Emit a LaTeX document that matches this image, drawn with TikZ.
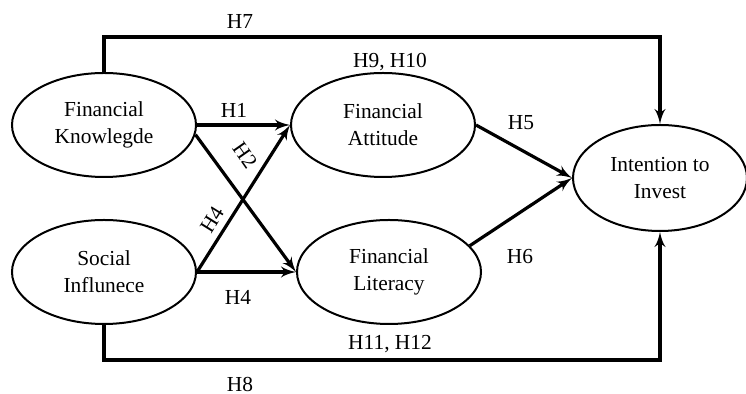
\documentclass[tikz,border=0pt]{standalone}
\usepackage{fontspec}
\setmainfont{Liberation Serif}
\newfontfamily\timesfont{Liberation Serif}
\usetikzlibrary{arrows}
\usetikzlibrary{shapes.geometric}

\begin{document}
\begin{tikzpicture}[x=.5pt, y=-.5pt, font=\timesfont\fontsize{10.7}{13.5}\selectfont,
  construct/.style={draw, ellipse, line width=1pt, inner sep=0, minimum width=92pt, minimum height=52pt, align=center},
  link/.style={black, line width=1.6pt, ->, >=latex'},
  hyp/.style={inner sep=0}]
\useasboundingbox (0,0) rectangle (746,394);

\node[construct] (know) at (104,125) {Financial\\Knowlegde};
\node[construct] (social) at (104,272) {Social\\Influnece};
\node[construct] (attitude) at (383,125) {Financial\\Attitude};
\node[construct] (literacy) at (389,272) {Financial\\Literacy};
\node[construct, minimum width=87pt, minimum height=53pt] (intent) at (660,178) {Intention to\\Invest};

\coordinate (toprail) at (0,37);
\coordinate (botrail) at (0,360);

\draw[link] (know.north) -- (know.north |- toprail) -| (intent.north);
\draw[link] (social.south) -- (social.south |- botrail) -| (intent.south);
\draw[link] (know.east) -- (attitude.west);
\draw[link] (know.-6) -- (literacy.west);
\draw[link] (social.east) -- (attitude.west);
\draw[link] (social.east) -- (literacy.west);
\draw[link] (attitude.east) -- (intent.west);
\draw[link] (literacy.18) -- (intent.west);

\node[hyp] (h7) at (240,22) {H7};
\node[hyp] (h9) at (390,62) {H9, H10};
\node[hyp] (h1) at (234,110) {H1};
\node[hyp, rotate=-55] (h2) at (245,155) {H2};
\node[hyp, rotate=58] (h4a) at (212,220) {H4};
\node[hyp] (h4b) at (238,297) {H4};
\node[hyp] (h5) at (521,123) {H5};
\node[hyp] (h6) at (520,257) {H6};
\node[hyp] (h11) at (390,344) {H11, H12};
\node[hyp] (h8) at (240,384) {H8};
\end{tikzpicture}
\end{document}
